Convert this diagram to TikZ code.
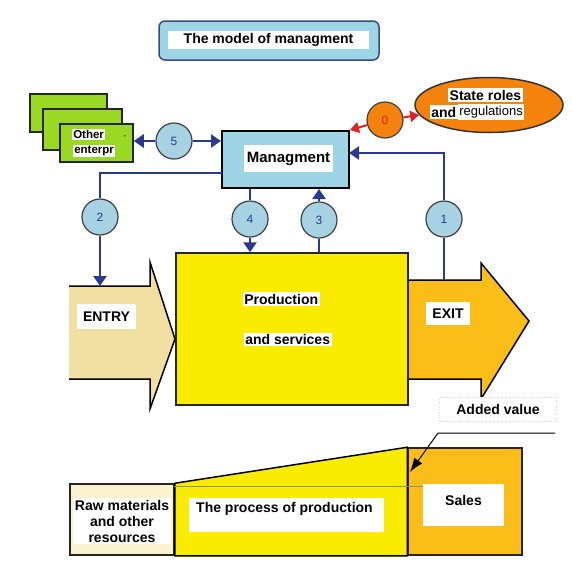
\documentclass[tikz,border=0pt]{standalone}
\usepackage{fontspec}
\setmainfont{Liberation Sans}
\usepackage{tikz}
\usetikzlibrary{positioning, arrows.meta, shapes.geometric}

\definecolor{boxblue}{HTML}{9DD5E6}
\definecolor{circblue}{HTML}{A6D2E4}
\definecolor{navy}{HTML}{2B3990}
\definecolor{entgreen}{HTML}{9AD923}
\definecolor{prodyellow}{HTML}{FAEC00}
\definecolor{entryc}{HTML}{F2E0A3}
\definecolor{exitc}{HTML}{FBBD17}
\definecolor{stateorange}{HTML}{F5820B}
\definecolor{arrowred}{HTML}{E32028}
\definecolor{rawcream}{HTML}{FAF2CF}
\definecolor{titleedge}{HTML}{3C4C78}

\begin{document}
\begin{tikzpicture}[x=1pt,y=-1pt,line width=1.5pt,
    lbl/.style={fill=white,inner sep=1.5pt,font=\fontsize{14}{16}\selectfont\bfseries},
    numc/.style={circle,draw=black!75,line width=1.2pt,fill=circblue,minimum size=36pt,inner sep=0pt,text=navy,font=\fontsize{12}{14}\selectfont},
    navyline/.style={draw=navy,line width=2.4pt},
    navytip/.style={navyline,-{Triangle[width=13pt,length=10pt]}},
    redtip/.style={draw=arrowred,line width=2pt,-{Triangle[width=11pt,length=9pt]}},
    block/.style={rectangle,draw=black!85,inner sep=0pt}]

        \useasboundingbox (0,0) rectangle (572,565);

        % title
        \node[block,rounded corners=6pt,draw=titleedge,fill=boxblue,minimum width=220pt,minimum height=39pt] (title) at (269,40.5) {};
        \node[lbl,minimum width=201pt,minimum height=18pt] (titletxt) at (268.5,40) {The model of managment};

        % other enterprises
        \node[block,fill=entgreen,minimum width=77pt,minimum height=38pt] (ent1) at (68.5,113) {};
        \node[block,fill=entgreen,minimum width=79pt,minimum height=41pt] (ent2) at (82.5,129.5) {};
        \node[block,fill=entgreen,minimum width=73pt,minimum height=38pt] (ent3) at (96.5,143) {};
        \node[lbl,font=\fontsize{11.5}{13}\selectfont\bfseries,anchor=west] (enttxt1) at (71,134.5) {Other\hspace{14pt}};
        \node[lbl,font=\fontsize{11.5}{13}\selectfont\bfseries,anchor=west] (enttxt2) at (72,151) {enterpr};
        \node[font=\fontsize{8}{8}\selectfont,inner sep=0pt] (entdash) at (125,137) {-};

        % managment
        \node[block,fill=boxblue,draw=black,line width=2pt,minimum width=127pt,minimum height=57pt] (mgmt) at (285.5,159.5) {};
        \node[lbl,minimum width=89pt,minimum height=27pt,font=\fontsize{15}{17}\selectfont\bfseries] (mgmttxt) at (288.5,158.5) {Managment};

        % state
        \node[ellipse,draw=black!80,fill=stateorange,minimum width=148pt,minimum height=55pt] (state) at (489,105) {};
        \node[lbl] (statetxt1) at (485.5,95) {State roles};
        \node[lbl,anchor=west] (statetxt2) at (429,112) {and};
        \node[lbl,anchor=west,font=\fontsize{13}{15}\selectfont] (statetxt3) at (457,112) {regulations};

        % entry and exit
        \fill[entryc] (69,286) -- (150,286) -- (150,262) -- (175,339) -- (150,409) -- (150,379) -- (69,379) -- cycle;
        \draw[line join=miter] (69,286) -- (150,286) -- (150,262) -- (175,339) -- (150,409) -- (150,379) -- (69,379);
        \filldraw[fill=exitc,line join=miter] (400,280) -- (481,280) -- (481,263) -- (529,321) -- (481,399) -- (481,379) -- (400,379) -- cycle;

        \node[block,fill=prodyellow,minimum width=232pt,minimum height=152pt] (prod) at (292,329) {};
        \node[lbl,anchor=west] (prodtxt1) at (242,299) {Production\hspace{3pt}};
        \node[lbl,anchor=west] (prodtxt2) at (243,339.5) {and services\hspace{3pt}};
        \node[lbl,minimum width=59pt,minimum height=25pt] (entrytxt) at (106.5,316.5) {ENTRY};
        \node[lbl,minimum width=44pt,minimum height=23pt] (exittxt) at (448,313.5) {EXIT};

        % numbered links
        \node[numc] (n5) at (174,141) {5};
        \node[numc] (n2) at (100,217) {2};
        \node[numc] (n4) at (250,219) {4};
        \node[numc] (n3) at (319,220) {3};
        \node[numc] (n1) at (444,219) {1};
        \node[numc,fill=stateorange,text=arrowred] (n0) at (385,120) {0};

        \coordinate (entrytop) at (100,286);
        \coordinate (exittop) at (444,280);
        \coordinate (mgmtw) at (222,173);
        \coordinate (mgmte) at (349,153);

        \draw[navytip] (n5.west) -- (n5.west -| ent3.east);
        \draw[navytip] (n5.east) -- (n5.east -| mgmt.west);
        \draw[navyline] (mgmtw) -| (n2.north);
        \draw[navytip] (n2.south) -- (entrytop);
        \draw[navyline] (n4 |- mgmt.south) -- (n4.north);
        \draw[navytip] (n4.south) -- (n4 |- prod.north);
        \draw[navyline] (n3 |- prod.north) -- (n3.south);
        \draw[navytip] (n3.north) -- (n3 |- mgmt.south);
        \draw[navyline] (exittop) -- (n1.south);
        \draw[navytip] (n1.north) |- (mgmte);
        \draw[redtip] (n0) -- (mgmt.north east);
        \draw[redtip] (n0) -- (state);

        % lower chain
        \node[block,fill=rawcream,minimum width=104pt,minimum height=71pt] (raw) at (122,519.5) {};
        \node[lbl,align=center,fill=white] (rawtxt) at (122,521) {Raw materials\\and other\\resources};
        \node[block,fill=exitc,minimum width=114pt,minimum height=107pt] (sales) at (465,501.5) {};
        \filldraw[fill=prodyellow] (raw.north east) -- (sales.north west) -- (sales.south west) -- (raw.south east) -- cycle;
        \draw[black!45,line width=0.8pt] (174,486) -- (423,486);
        \node[fill=white,minimum width=81pt,minimum height=42pt] (salesbox) at (463.5,505) {};
        \node[lbl] (salestxt) at (463.5,500) {Sales};
        \node[fill=white,minimum width=195pt,minimum height=34pt] (procbox) at (286.5,515) {};
        \node[lbl] (proctxt) at (284.5,509) {The process of production};

        % added value
        \node[lbl,draw=black!15,dotted,line width=0.6pt,minimum width=117pt,minimum height=24pt] (added) at (498,409) {Added value};
        \coordinate (leadend) at (555,433);
        \coordinate (leadbend) at (438,433);
        \coordinate (addtip) at (410,472);
        \draw[line width=1pt,-{Latex[length=14pt,width=10pt]}] (leadend) -- (leadbend) -- (addtip);
\end{tikzpicture}
\end{document}
